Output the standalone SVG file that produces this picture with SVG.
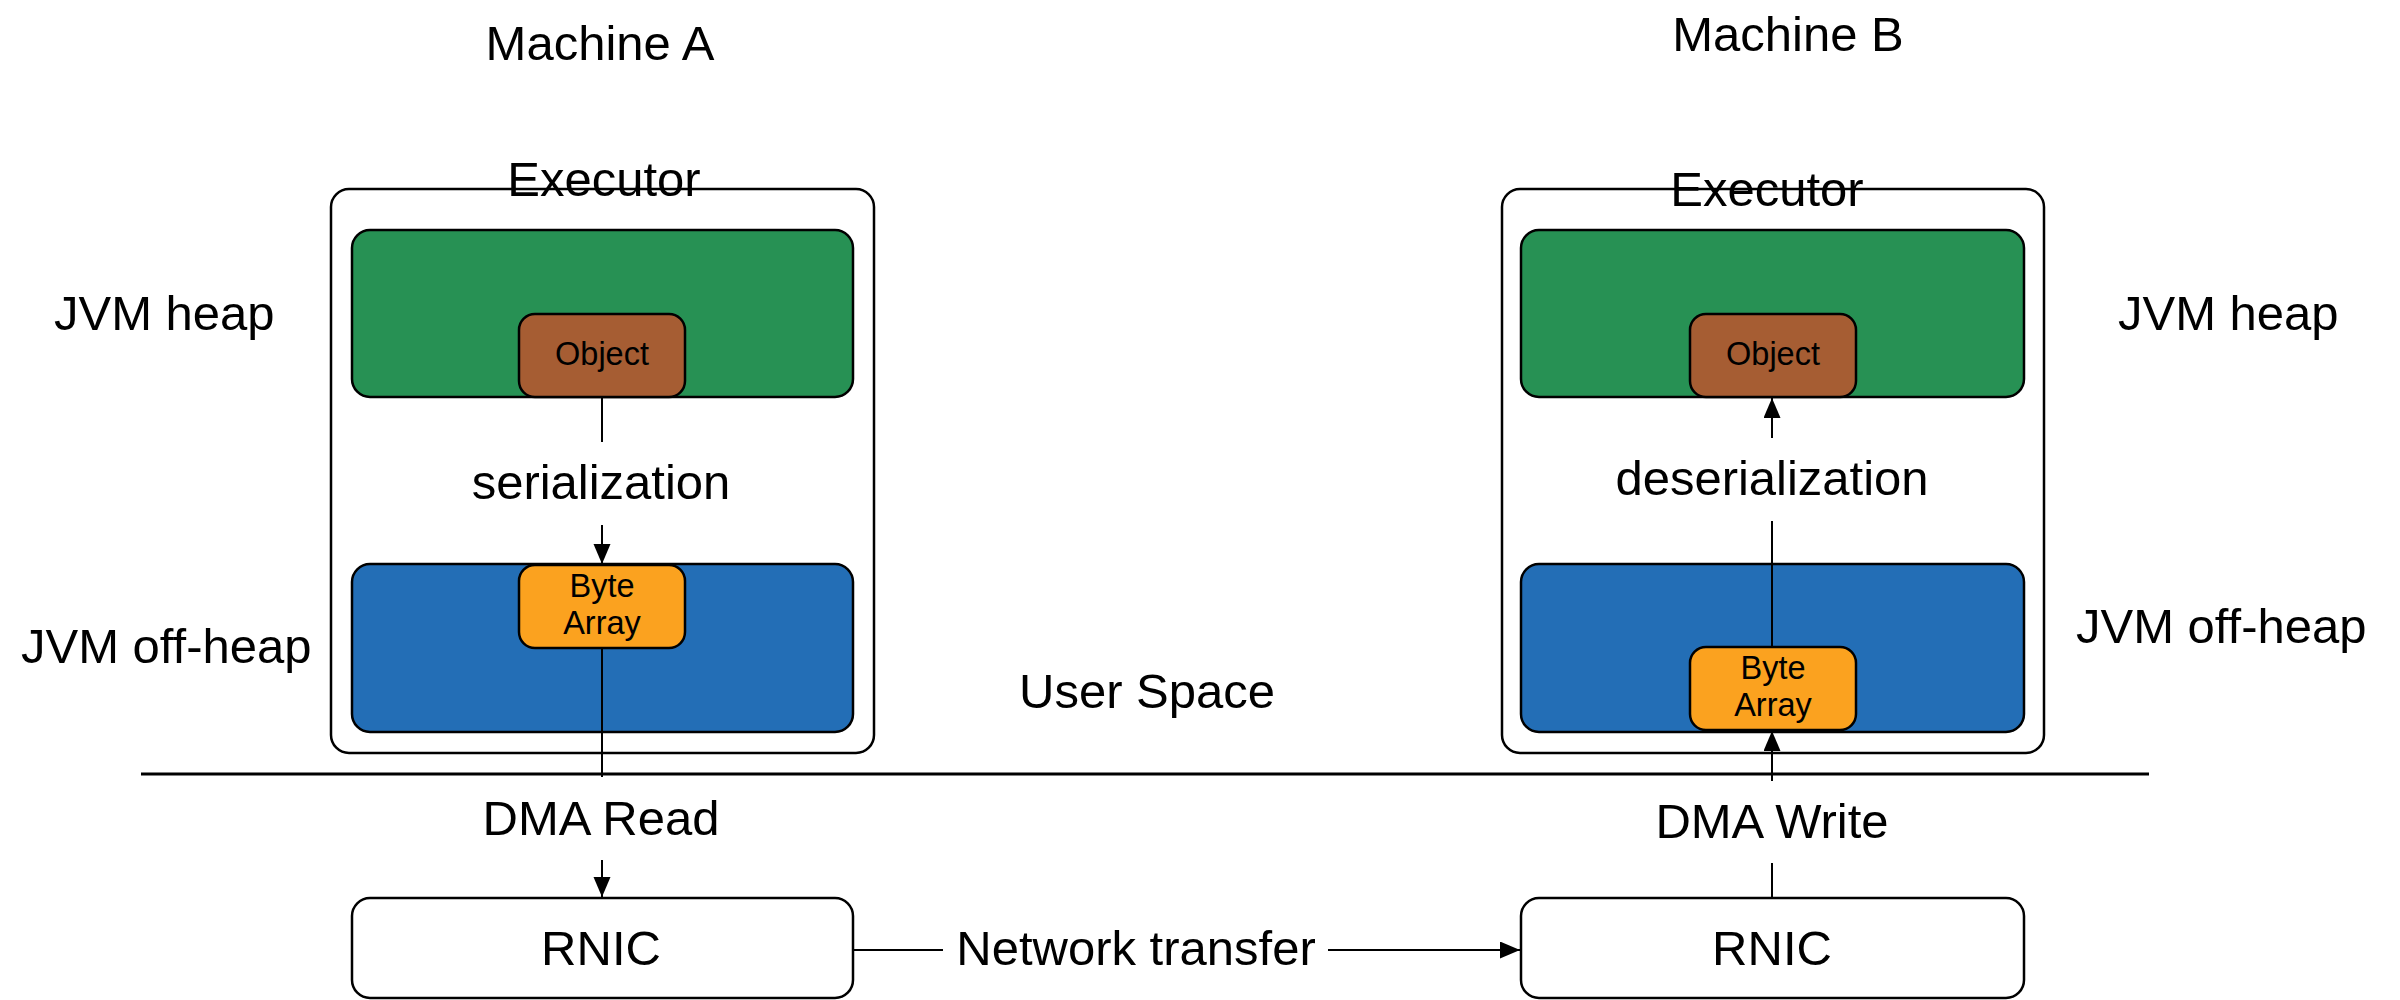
<svg xmlns="http://www.w3.org/2000/svg" width="2400" height="1000" viewBox="0 0 2400 1000">
  <style>
    text { font-family: "Liberation Sans", Arial, Helvetica, sans-serif; fill: #000; }
    .big { font-size: 49px; }
    .small { font-size: 32.5px; }
    .mid { text-anchor: middle; }
    .executor { fill: #ffffff; stroke: #000; stroke-width: 2.5; }
    .heap { fill: #279154; stroke: #000; stroke-width: 2.5; }
    .offheap { fill: #236EB6; stroke: #000; stroke-width: 2.5; }
    .object { fill: #A65D33; stroke: #000; stroke-width: 2.5; }
    .bytes { fill: #FBA21F; stroke: #000; stroke-width: 2.5; }
    .rnic { fill: #ffffff; stroke: #000; stroke-width: 2.5; }
    .wire { fill: none; stroke: #000; stroke-width: 2; }
    .sep { fill: none; stroke: #000; stroke-width: 3; }
  </style>
  <defs>
    <marker id="arrow" markerUnits="userSpaceOnUse" markerWidth="22" markerHeight="18" refX="20" refY="8.5" orient="auto">
      <path d="M0,0 L20,8.5 L0,17 z" fill="#000"/>
    </marker>
  </defs>

  <rect width="2400" height="1000" fill="#ffffff"/>

  <!-- machine titles -->
  <text class="big mid" x="600" y="60">Machine A</text>
  <text class="big mid" x="1788" y="51">Machine B</text>

  <!-- side labels -->
  <text class="big" x="54" y="330">JVM heap</text>
  <text class="big" x="21" y="663">JVM off-heap</text>
  <text class="big" x="2118" y="330">JVM heap</text>
  <text class="big" x="2076" y="643">JVM off-heap</text>
  <text class="big" x="1019" y="708">User Space</text>

  <!-- user / kernel boundary -->
  <line class="sep" x1="141" y1="774" x2="2149" y2="774"/>

  <!-- Machine A executor -->
  <g id="executor-a">
    <rect class="executor" x="331" y="189" width="543" height="564" rx="18"/>
    <text class="big mid" x="604" y="196">Executor</text>
  </g>
  <g id="heap-a">
    <rect class="heap" x="352" y="230" width="501" height="167" rx="18"/>
  </g>
  <g id="offheap-a">
    <rect class="offheap" x="352" y="564" width="501" height="168" rx="18"/>
  </g>
  <g id="object-a">
    <rect class="object" x="519" y="314" width="166" height="83" rx="16"/>
    <text class="small mid" x="602" y="365">Object</text>
  </g>
  <g id="bytes-a">
    <rect class="bytes" x="519" y="565" width="166" height="83" rx="16"/>
    <text class="small mid" x="602" y="597">Byte</text>
    <text class="small mid" x="602" y="634">Array</text>
  </g>
  <g id="rnic-a">
    <rect class="rnic" x="352" y="898" width="501" height="100" rx="18"/>
    <text class="big mid" x="601" y="965">RNIC</text>
  </g>

  <!-- Machine B executor -->
  <g id="executor-b">
    <rect class="executor" x="1502" y="189" width="542" height="564" rx="18"/>
    <text class="big mid" x="1767" y="206">Executor</text>
  </g>
  <g id="heap-b">
    <rect class="heap" x="1521" y="230" width="503" height="167" rx="18"/>
  </g>
  <g id="offheap-b">
    <rect class="offheap" x="1521" y="564" width="503" height="168" rx="18"/>
  </g>
  <g id="object-b">
    <rect class="object" x="1690" y="314" width="166" height="83" rx="16"/>
    <text class="small mid" x="1773" y="365">Object</text>
  </g>
  <g id="bytes-b">
    <rect class="bytes" x="1690" y="647" width="166" height="83" rx="16"/>
    <text class="small mid" x="1773" y="679">Byte</text>
    <text class="small mid" x="1773" y="716">Array</text>
  </g>
  <g id="rnic-b">
    <rect class="rnic" x="1521" y="898" width="503" height="100" rx="18"/>
    <text class="big mid" x="1772" y="965">RNIC</text>
  </g>

  <!-- connectors with their labels -->
  <g id="connectors">
    <!-- serialization: Object -> Byte Array -->
    <line class="wire" x1="602" y1="397" x2="602" y2="442"/>
    <line class="wire" x1="602" y1="525" x2="602" y2="564" marker-end="url(#arrow)"/>
    <text class="big mid" x="601" y="499">serialization</text>

    <!-- DMA read: Byte Array -> RNIC -->
    <line class="wire" x1="602" y1="648" x2="602" y2="777"/>
    <line class="wire" x1="602" y1="860" x2="602" y2="897" marker-end="url(#arrow)"/>
    <text class="big mid" x="601" y="835">DMA Read</text>

    <!-- network transfer: RNIC -> RNIC -->
    <line class="wire" x1="853" y1="950" x2="943" y2="950"/>
    <line class="wire" x1="1328" y1="950" x2="1520" y2="950" marker-end="url(#arrow)"/>
    <text class="big mid" x="1136" y="965">Network transfer</text>

    <!-- DMA write: RNIC -> Byte Array -->
    <line class="wire" x1="1772" y1="898" x2="1772" y2="863"/>
    <line class="wire" x1="1772" y1="781" x2="1772" y2="731" marker-end="url(#arrow)"/>
    <text class="big mid" x="1772" y="838">DMA Write</text>

    <!-- deserialization: Byte Array -> Object -->
    <line class="wire" x1="1772" y1="647" x2="1772" y2="521"/>
    <line class="wire" x1="1772" y1="438" x2="1772" y2="398" marker-end="url(#arrow)"/>
    <text class="big mid" x="1772" y="495">deserialization</text>
  </g>
</svg>
